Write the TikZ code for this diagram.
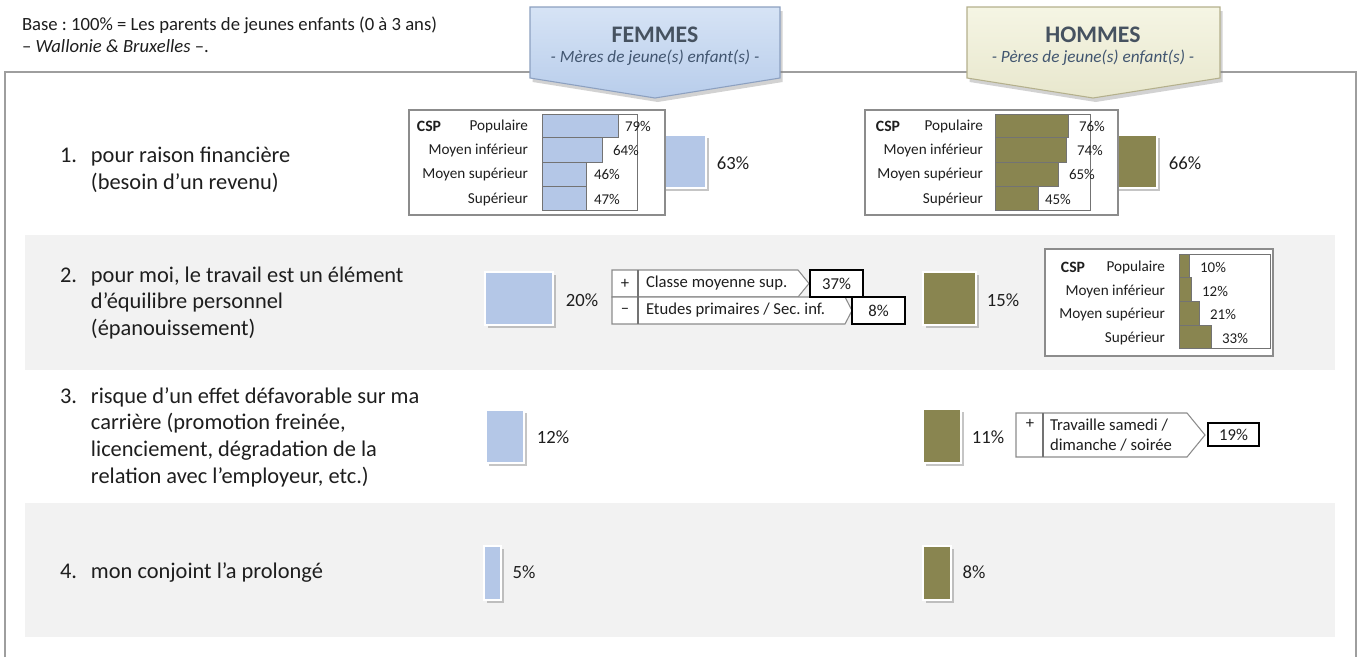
\documentclass[tikz,border=0pt]{standalone}
\usepackage{fontspec}
\setmainfont{Carlito}
\usepackage{tikz}
\usetikzlibrary{positioning,shadows}
\frenchspacing

\begin{document}
\begin{tikzpicture}[x=0.75pt,y=-0.75pt,
  txt/.style={text=txtColor,inner sep=0pt,outer sep=0pt},
  item/.style={txt,anchor=west,align=left,font=\fontsize{16.8}{20}\selectfont},
  bigval/.style={txt,anchor=center,font=\fontsize{14}{16}\selectfont},
  csplbl/.style={txt,anchor=east,font=\fontsize{11.4}{13}\selectfont},
  cspval/.style={txt,anchor=center,font=\fontsize{11.2}{13}\selectfont},
  calltxt/.style={txt,anchor=west,align=left,font=\fontsize{12.5}{15}\selectfont},
  cspbox/.style={draw=boxColor,fill=white,line width=0.9pt},
  cspbar/.style={draw=barEdge,line width=0.7pt},
  bigbar/.style={draw=white,line width=1pt,drop shadow={shadow xshift=2.5pt,shadow yshift=-2.5pt,opacity=0.45}},
  headarrow/.style={line width=0.8pt,drop shadow={shadow xshift=2pt,shadow yshift=-3pt,opacity=0.35}},
  headtitle/.style={inner sep=0pt,outer sep=0pt,anchor=center,font=\fontsize{17.8}{20}\selectfont\bfseries},
  headsub/.style={inner sep=0pt,outer sep=0pt,anchor=center,font=\fontsize{12.9}{15}\selectfont\itshape}]
\definecolor{txtColor}{RGB}{30,30,30}
\definecolor{femColor}{RGB}{180,199,231}
\definecolor{homColor}{RGB}{137,133,80}
\definecolor{bandColor}{gray}{0.95}
\definecolor{frameColor}{gray}{0.62}
\definecolor{boxColor}{gray}{0.55}
\definecolor{barEdge}{gray}{0.45}
\path[use as bounding box,fill=white] (0,0) rectangle (1360,657);

% cadre et bandes grises
\path[fill=bandColor] (25,235) rectangle (1335,370);
\path[fill=bandColor] (25,503) rectangle (1335,637);
\path[draw=frameColor,line width=1.2pt] (5,657) -- (5,72) -- (1356,72) -- (1356,657);

% en-tete
\node[txt,anchor=north west,align=left,font=\fontsize{14}{16.5}\selectfont] (base) at (22,17)
  {Base : 100\% = Les parents de jeunes enfants (0 à 3 ans)\\– \textit{Wallonie \& Bruxelles} –.};

\definecolor{femTop}{RGB}{214,227,245}
\definecolor{femBot}{RGB}{184,205,235}
\definecolor{femEdge}{RGB}{140,160,192}
\path[headarrow,draw=femEdge,top color=femTop,bottom color=femBot]
  (530,7) -- (780,7) -- (780,78) -- (655,98) -- (530,78) -- cycle;
\node[headtitle,text={rgb,255:red,70;green,82;blue,96}] (femmes) at (655,35) {FEMMES};
\node[headsub,text={rgb,255:red,66;green,86;blue,112}] (femmesSub) at (655,58) {- Mères de jeune(s) enfant(s) -};

\definecolor{homTop}{RGB}{245,245,228}
\definecolor{homBot}{RGB}{232,231,205}
\definecolor{homEdge}{RGB}{180,176,140}
\path[headarrow,draw=homEdge,top color=homTop,bottom color=homBot]
  (967,7) -- (1220,7) -- (1220,78) -- (1093,98) -- (967,78) -- cycle;
\node[headtitle,text={rgb,255:red,70;green,82;blue,96}] (hommes) at (1093,35) {HOMMES};
\node[headsub,text={rgb,255:red,66;green,86;blue,112}] (hommesSub) at (1093,58) {- Pères de jeune(s) enfant(s) -};

% libelles
\node[item] (q1) at (60,170) {\makebox[23.25pt][l]{1.}pour raison financière\\\hspace*{23.25pt}(besoin d’un revenu)};
\node[item] (q2) at (60,303) {\makebox[23.25pt][l]{2.}pour moi, le travail est un élément\\\hspace*{23.25pt}d’équilibre personnel\\\hspace*{23.25pt}(épanouissement)};
\node[item] (q3) at (60,437) {\makebox[23.25pt][l]{3.}risque d’un effet défavorable sur ma\\\hspace*{23.25pt}carrière (promotion freinée,\\\hspace*{23.25pt}licenciement, dégradation de la\\\hspace*{23.25pt}relation avec l’employeur, etc.)};
\node[item] (q4) at (60,573) {\makebox[23.25pt][l]{4.}mon conjoint l’a prolongé};

% 1. femmes
\path[bigbar,fill=femColor] (486,135) rectangle (706,188);
\node[bigval] (f1val) at (733,163) {63\%};
\path[cspbox] (409,110) rectangle (665,215);
\path[cspbar,fill=femColor] (542,114) rectangle (618,137);
\path[cspbar,fill=femColor] (542,137) rectangle (602,162);
\path[cspbar,fill=femColor] (542,162) rectangle (586,186);
\path[cspbar,fill=femColor] (542,186) rectangle (586,210);
\path[draw=barEdge,line width=0.7pt] (542,114) rectangle (637,210);
\node[csplbl,anchor=center,font=\fontsize{11.8}{13}\selectfont\bfseries] (f1csp) at (429,126) {CSP};
\node[csplbl] (f1pop) at (528,126) {Populaire};
\node[csplbl] (f1minf) at (528,150) {Moyen inférieur};
\node[csplbl] (f1msup) at (528,174) {Moyen supérieur};
\node[csplbl] (f1sup) at (528,199) {Supérieur};
\node[cspval] (f1popv) at (638,126) {79\%};
\node[cspval] (f1minfv) at (626,150) {64\%};
\node[cspval] (f1msupv) at (607,174) {46\%};
\node[cspval] (f1supv) at (607,199) {47\%};

% 1. hommes
\path[bigbar,fill=homColor] (923,135) rectangle (1157,188);
\node[bigval] (h1val) at (1185,163) {66\%};
\path[cspbox] (865,110) rectangle (1118,215);
\path[cspbar,fill=homColor] (995,114) rectangle (1068,137);
\path[cspbar,fill=homColor] (995,137) rectangle (1066,162);
\path[cspbar,fill=homColor] (995,162) rectangle (1058,186);
\path[cspbar,fill=homColor] (995,186) rectangle (1038,210);
\path[draw=barEdge,line width=0.7pt] (995,114) rectangle (1090,210);
\node[csplbl,anchor=center,font=\fontsize{11.8}{13}\selectfont\bfseries] (h1csp) at (888,126) {CSP};
\node[csplbl] (h1pop) at (983,126) {Populaire};
\node[csplbl] (h1minf) at (983,150) {Moyen inférieur};
\node[csplbl] (h1msup) at (983,174) {Moyen supérieur};
\node[csplbl] (h1sup) at (983,199) {Supérieur};
\node[cspval] (h1popv) at (1092,126) {76\%};
\node[cspval] (h1minfv) at (1090,150) {74\%};
\node[cspval] (h1msupv) at (1082,174) {65\%};
\node[cspval] (h1supv) at (1058,199) {45\%};

% 2. femmes
\path[bigbar,fill=femColor] (485,272) rectangle (553,325);
\node[bigval] (f2val) at (582,300) {20\%};
\path[draw=boxColor,fill=white,line width=0.8pt] (612,270) -- (798,270) -- (809,283.5) -- (798,297) -- (612,297) -- cycle;
\path[draw=boxColor,fill=white,line width=0.8pt] (612,297) -- (845,297) -- (852,310.5) -- (845,324) -- (612,324) -- cycle;
\path[draw=barEdge,line width=0.8pt] (638,270) -- (638,324);
\path[draw=black,fill=white,line width=1pt] (810,270) rectangle (863,297);
\path[draw=black,fill=white,line width=1pt] (852,297) rectangle (905,324);
\node[calltxt,anchor=center] (f2plus) at (625,283.5) {+};
\node[calltxt,anchor=center] (f2moins) at (625,310.5) {–};
\node[calltxt] (f2cls) at (646,283.5) {Classe moyenne sup.};
\node[calltxt] (f2etu) at (646,310.5) {Etudes primaires / Sec. inf.};
\node[calltxt,anchor=center] (f2clsv) at (836.5,283.5) {37\%};
\node[calltxt,anchor=center] (f2etuv) at (878.5,310.5) {8\%};

% 2. hommes
\path[bigbar,fill=homColor] (923,272) rectangle (976,325);
\node[bigval] (h2val) at (1003,300) {15\%};
\path[cspbox] (1045,249) rectangle (1273,356);
\path[cspbar,fill=homColor] (1179,254) rectangle (1189,277);
\path[cspbar,fill=homColor] (1179,277) rectangle (1191,301);
\path[cspbar,fill=homColor] (1179,301) rectangle (1199,325);
\path[cspbar,fill=homColor] (1179,325) rectangle (1211,348);
\path[draw=barEdge,line width=0.7pt] (1179,254) rectangle (1270,348);
\node[csplbl,anchor=center,font=\fontsize{11.8}{13}\selectfont\bfseries] (h2csp) at (1073,267) {CSP};
\node[csplbl] (h2pop) at (1165,267) {Populaire};
\node[csplbl] (h2minf) at (1165,291) {Moyen inférieur};
\node[csplbl] (h2msup) at (1165,314) {Moyen supérieur};
\node[csplbl] (h2sup) at (1165,338) {Supérieur};
\node[cspval] (h2popv) at (1213,267) {10\%};
\node[cspval] (h2minfv) at (1215,291) {12\%};
\node[cspval] (h2msupv) at (1223,314) {21\%};
\node[cspval] (h2supv) at (1235,338) {33\%};

% 3.
\path[bigbar,fill=femColor] (486,410) rectangle (524,463);
\node[bigval] (f3val) at (553,437) {12\%};
\path[bigbar,fill=homColor] (923,409) rectangle (961,463);
\node[bigval] (h3val) at (988,437) {11\%};
\path[draw=boxColor,fill=white,line width=0.8pt] (1016,413) -- (1187,413) -- (1205,435) -- (1187,457) -- (1016,457) -- cycle;
\path[draw=barEdge,line width=0.8pt] (1043,413) -- (1043,457);
\path[draw=black,fill=white,line width=1pt] (1208,423) rectangle (1259,446);
\node[calltxt,anchor=center] (h3plus) at (1030,424) {+};
\node[calltxt] (h3trav) at (1050,435) {Travaille samedi /\\dimanche / soirée};
\node[calltxt,anchor=center] (h3travv) at (1233.5,434.5) {19\%};

% 4.
\path[bigbar,fill=femColor] (484,546) rectangle (501,600);
\node[bigval] (f4val) at (524,572) {5\%};
\path[bigbar,fill=homColor] (923,546) rectangle (951,600);
\node[bigval] (h4val) at (974,572) {8\%};
\end{tikzpicture}
\end{document}
